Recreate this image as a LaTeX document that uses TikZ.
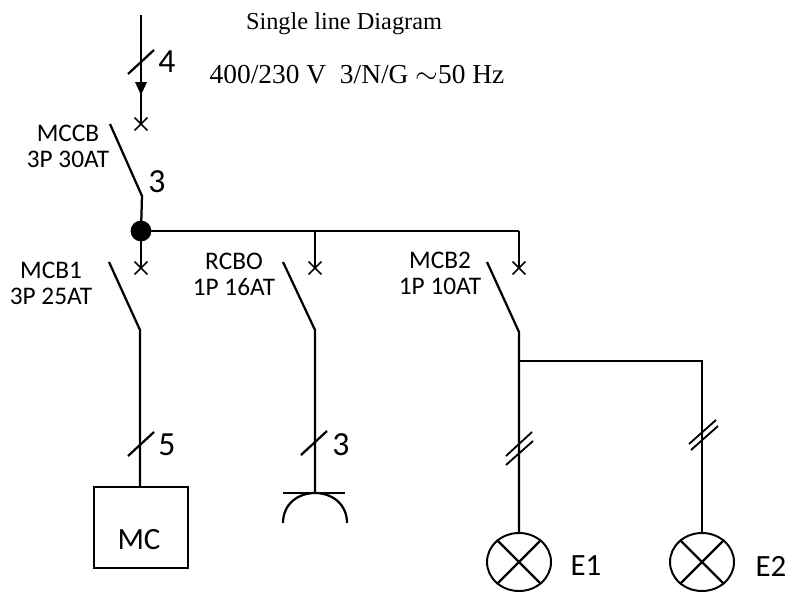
\documentclass[tikz,border=0pt]{standalone}
\usepackage{fontspec}
\usepackage{tikz}
\usetikzlibrary{shapes.geometric,shapes.misc}
\setmainfont{Carlito}
\newfontfamily\titlefont{Liberation Serif}

\begin{document}
\begin{tikzpicture}[
        x=0.025cm, y=-0.025cm,
        wire/.style={line width=1.6pt},
        thinwire/.style={line width=0.9pt},
        tick/.style={line width=1.3pt},
        xmark/.style={cross out, draw, line width=1.2pt, minimum size=0.28cm, inner sep=0pt},
        junction/.style={circle, fill=black, minimum size=0.52cm, inner sep=0pt},
        lamp/.style={ellipse, draw, line width=1.4pt, minimum width=1.6cm, minimum height=1.45cm, inner sep=0pt},
        load/.style={rectangle, draw, line width=1.4pt, minimum width=2.35cm, minimum height=2.025cm},
        label/.style={font=\fontsize{18}{18.5}\selectfont, inner sep=0pt},
        count/.style={font=\fontsize{24}{26}\selectfont, inner sep=0pt},
        tag/.style={font=\fontsize{22}{24}\selectfont, inner sep=0pt},
        heading/.style={font=\titlefont\fontsize{17.3}{20}\selectfont, inner sep=0pt},
        rating/.style={font=\titlefont\fontsize{19.5}{22}\selectfont, inner sep=0pt}
    ]
        \useasboundingbox (0,0) rectangle (788,592);

        \node[heading] (title) at (344,24) {Single line Diagram};
        \node[rating] (supply) at (357,75) {400/230 V\ \ 3/N/G $\sim$50 Hz};

        % incoming feeder
        \coordinate (top) at (141,15);
        \node[xmark] (xmccb) at (141,124) {};
        \coordinate (bmccb) at (142,196);
        \coordinate (omccb) at (110,124);
        \node[junction] (dot) at (141,231) {};
        \draw[wire] (top) -- (xmccb.center);
        \fill (135,82) -- (147,82) -- (141,95) -- cycle;
        \draw[wire] (omccb) -- (bmccb) -- (dot.center);

        % bus bar
        \coordinate (busb) at (315,231);
        \coordinate (busc) at (519,231);
        \draw[wire] (dot.center) -- (busb) -- (busc);

        % outgoing switches
        \node[xmark] (xmcba) at (141,268) {};
        \node[xmark] (xrcbo) at (315,268) {};
        \node[xmark] (xmcbb) at (519,268) {};
        \draw[wire] (dot.center) -- (xmcba.center);
        \draw[wire] (busb) -- (xrcbo.center);
        \draw[wire] (busc) -- (xmcbb.center);

        \coordinate (omcba) at (109,262);
        \coordinate (bmcba) at (140,330);
        \coordinate (orcbo) at (283,262);
        \coordinate (brcbo) at (315,330);
        \coordinate (omcbb) at (487,262);
        \coordinate (bmcbb) at (519,332);

        % loads
        \node[load] (mcbox) at (141,527.5) {};
        \node[tag] (mc) at (139,540) {MC};
        \coordinate (sock) at (315,493);
        \node[lamp] (ea) at (519,562) {};
        \node[lamp] (eb) at (702,562) {};
        \coordinate (tee) at (519,361);
        \coordinate (teeb) at (702,360);

        \draw[wire] (omcba) -- (bmcba) -- (bmcba |- mcbox.north);
        \draw[wire] (orcbo) -- (brcbo) -- (sock);
        \draw[wire] (omcbb) -- (bmcbb) -- (ea.north);
        \draw[thinwire] (tee) -- (tee -| teeb);
        \draw[wire] (teeb) -- (eb.north);

        % socket
        \draw[wire] (283,493) -- (345,493);
        \draw[wire] (283,523) .. controls (283,504) and (298,493) .. (sock) .. controls (332,493) and (347,504) .. (347,523);

        % lamp crosses
        \draw[wire] (ea.45) -- (ea.225);
        \draw[wire] (ea.135) -- (ea.315);
        \draw[wire] (eb.45) -- (eb.225);
        \draw[wire] (eb.135) -- (eb.315);

        % conductor ticks
        \draw[wire] (128,74) -- (154,50);
        \draw[wire] (128,456) -- (154,432);
        \draw[wire] (301,455) -- (327,431);
        \draw[tick] (506,456) -- (532,432);
        \draw[tick] (506,465) -- (533,441);
        \draw[tick] (689,444) -- (716,420);
        \draw[tick] (691,450) -- (718,426);

        \node[count] (na) at (167,62) {4};
        \node[count] (nb) at (157,182) {3};
        \node[count] (nc) at (167,445) {5};
        \node[count] (nd) at (341,445) {3};

        \node[label, align=center] (lmccb) at (68,146) {MCCB\\3P 30AT};
        \node[label, align=center] (lmcba) at (51,283) {MCB1\\3P 25AT};
        \node[label, align=center] (lrcbo) at (234,274) {RCBO\\1P 16AT};
        \node[label, align=center] (lmcbb) at (440,273) {MCB2\\1P 10AT};
        \node[tag] (le) at (586,566) {E1};
        \node[tag] (lf) at (771,566) {E2};
    \end{tikzpicture}
\end{document}
